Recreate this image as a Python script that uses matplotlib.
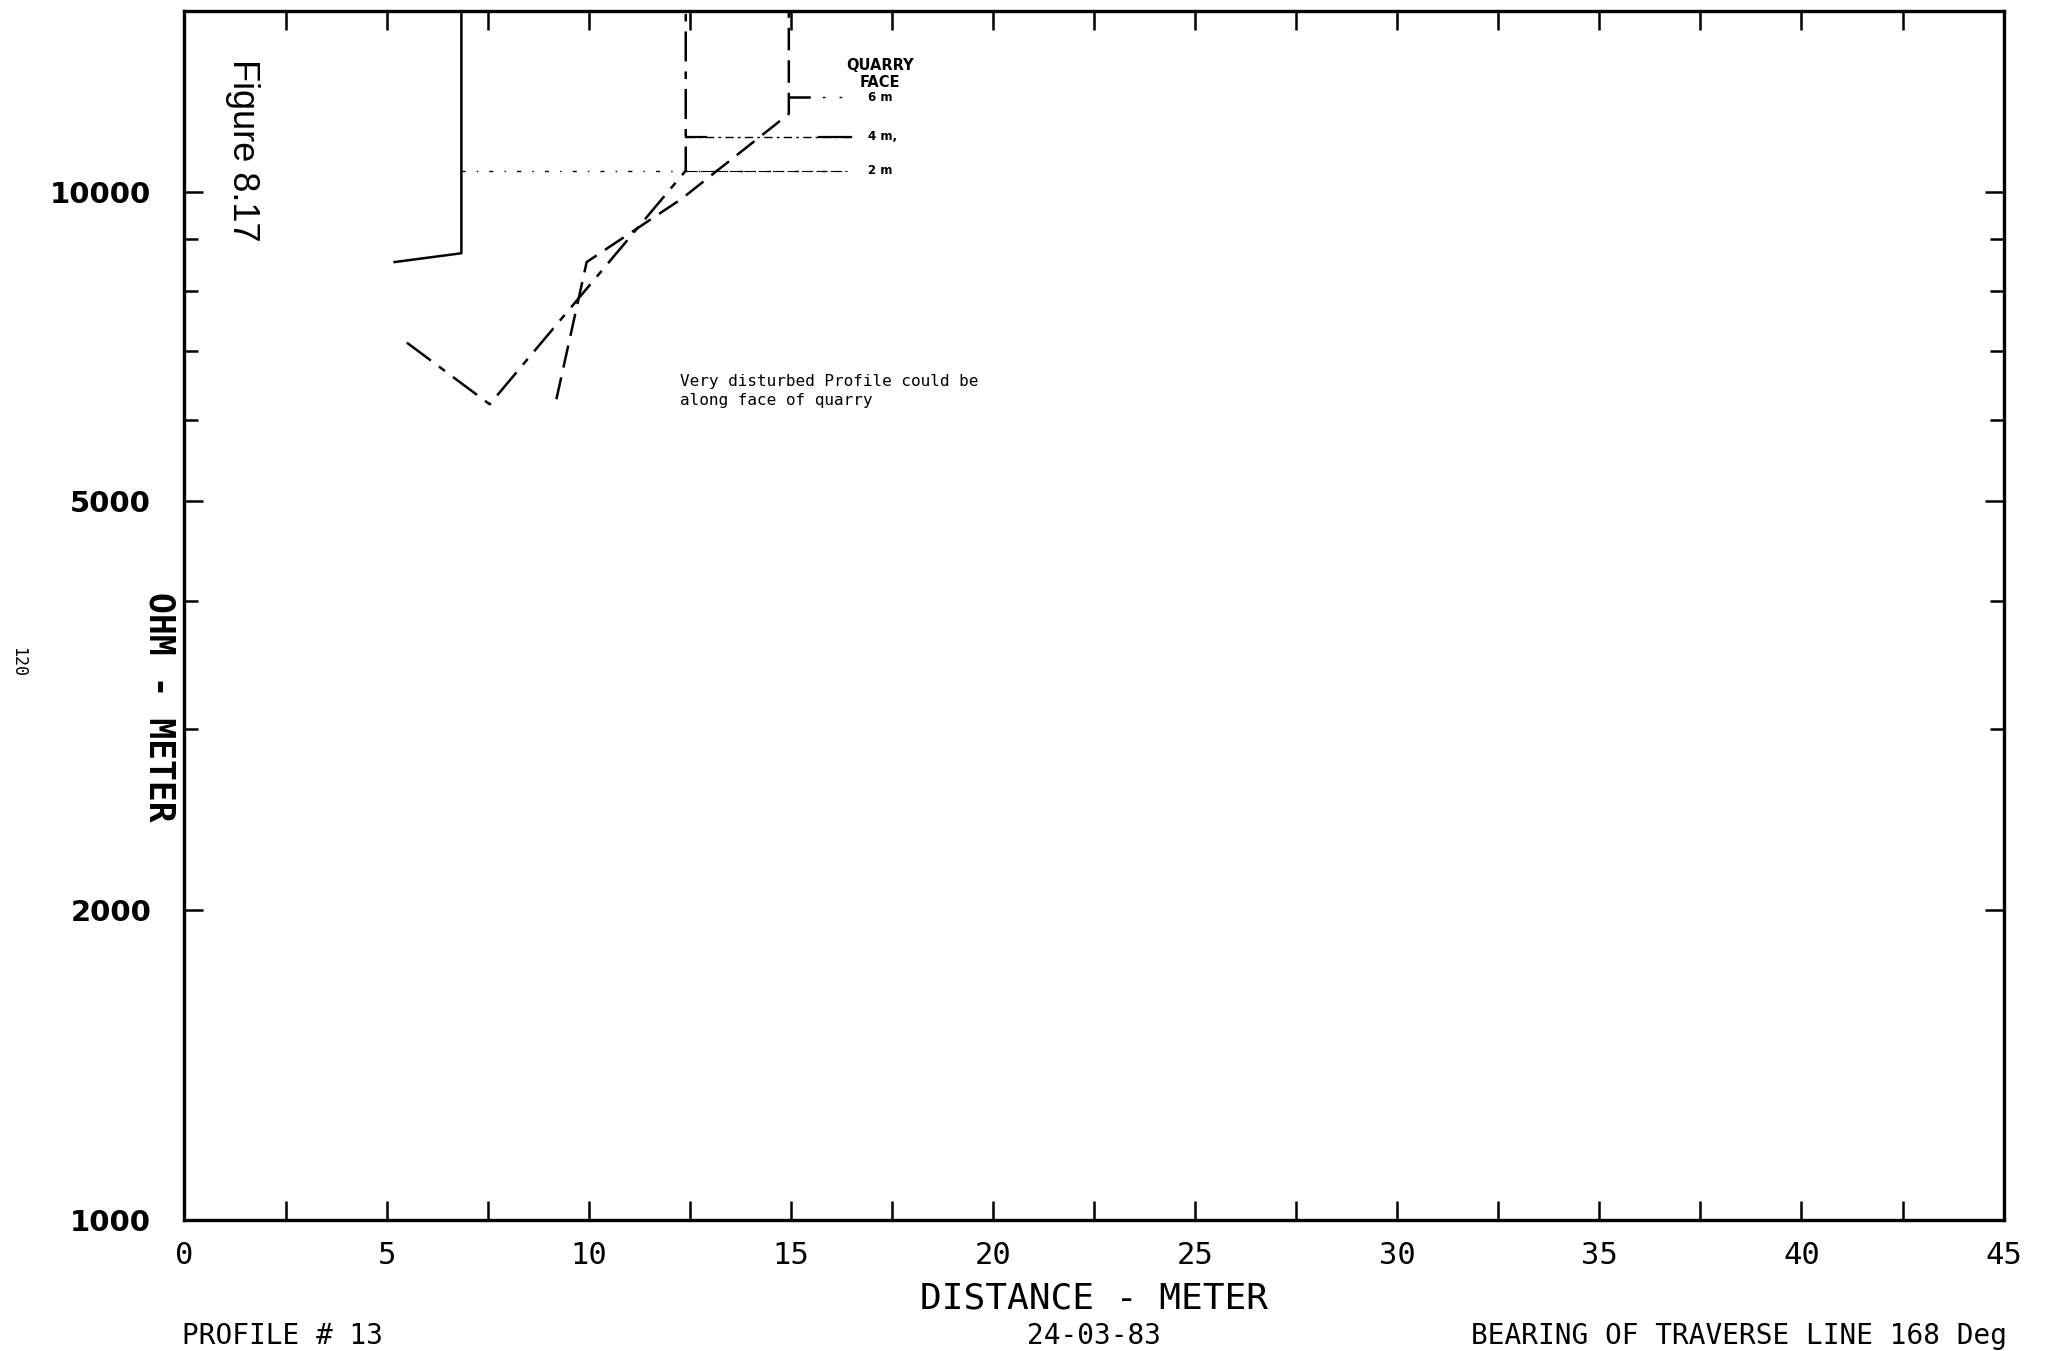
import matplotlib
matplotlib.use('Agg')
import matplotlib.pyplot as plt
from matplotlib.ticker import FixedLocator, NullFormatter

# resistivity readings along the traverse (distance in m, ohm-m)
# 30000 = reading runs off the top of the plot
dist_solid   = [5.2, 6.85, 6.85]
ohm_solid    = [8540, 8710, 30000]
dist_dash    = [9.2, 9.95, 12.3, 14.95, 14.95]
ohm_dash     = [6280, 8540, 9840, 11900, 30000]
dist_dashdot = [5.5, 7.55, 12.4, 12.4]
ohm_dashdot  = [7130, 6210, 10480, 30000]

# quarry face depth markers
face_labels = ['2 m', '4 m,', '6 m']
face_ohm    = [10480, 11310, 12350]
face_start  = [6.85, 12.4, 14.95]
face_end    = [16.4, 16.5, 16.3]
face_text_x = 16.9

x_major = [0, 5, 10, 15, 20, 25, 30, 35, 40, 45]
x_minor = [2.5, 7.5, 12.5, 17.5, 22.5, 27.5, 32.5, 37.5, 42.5]
y_major = [1000, 2000, 5000, 10000]
y_minor = [3000, 4000, 6000, 7000, 8000, 9000]

mono = 'DejaVu Sans Mono'

fig = plt.figure(figsize=(20.52, 13.51), dpi=100)
ax = fig.add_axes([0.0899, 0.0972, 0.9764 - 0.0899, 0.9922 - 0.0972])

ax.plot(dist_solid, ohm_solid, color='black', lw=1.8)
ax.plot(dist_dash, ohm_dash, color='black', lw=1.8, linestyle=(0, (9, 4)))
ax.plot(dist_dashdot, ohm_dashdot, color='black', lw=1.8, linestyle=(0, (12, 4, 3, 4)))

face_styles = [(0, (3, 8, 1, 8)), (0, (6, 3, 2, 3)), (0, (2, 10))]
for lab, yv, x0, x1, ls in zip(face_labels, face_ohm, face_start, face_end, face_styles):
    ax.plot([x0, x1], [yv, yv], color='black', lw=1.0, linestyle=ls)
    ax.text(face_text_x, yv, lab, fontsize=8.5, fontweight='bold', va='center', ha='left')
# solid stubs at the ends of the markers
ax.plot([12.4, 12.9], [11310, 11310], color='black', lw=1.6)
ax.plot([15.7, 16.5], [11310, 11310], color='black', lw=1.6)
ax.plot([14.95, 15.45], [12350, 12350], color='black', lw=1.8)
ax.plot([12.4, 16.4], [10480, 10480], color='black', lw=0.8, linestyle=(0, (10, 3)))

ax.text(17.2, 13250, 'QUARRY', fontsize=10.5, fontweight='bold', ha='center', va='center')
ax.text(17.2, 12780, 'FACE', fontsize=10.5, fontweight='bold', ha='center', va='center')

ax.text(12.27, 6650, 'Very disturbed Profile could be\nalong face of quarry',
        fontsize=11.5, family=mono, ha='left', va='top', linespacing=1.35)

ax.set_xlim(0, 45)
ax.set_yscale('log')
ax.set_ylim(1000, 15000)

ax.xaxis.set_major_locator(FixedLocator(x_major))
ax.xaxis.set_minor_locator(FixedLocator(x_minor))
ax.set_xticklabels([str(v) for v in x_major], fontsize=22, family=mono)
ax.yaxis.set_major_locator(FixedLocator(y_major))
ax.yaxis.set_minor_locator(FixedLocator(y_minor))
ax.yaxis.set_minor_formatter(NullFormatter())
ax.set_yticklabels([str(v) for v in y_major], fontsize=21, fontweight='bold')

ax.tick_params(axis='both', which='both', direction='in', top=True, right=True,
               width=1.8, color='black')
ax.tick_params(axis='x', which='both', length=14, pad=15)
ax.tick_params(axis='y', which='major', length=14, pad=24)
ax.tick_params(axis='y', which='minor', length=10)

for s in ax.spines.values():
    s.set_linewidth(2.4)

fig.text(0.533, 0.039, 'DISTANCE - METER', fontsize=26, family=mono,
         ha='center', va='center')
fig.text(0.0778, 0.477, 'OHM - METER', fontsize=25, family=mono, fontweight='bold',
         rotation=270, ha='center', va='center')
fig.text(0.118, 0.889, 'Figure 8.17', fontsize=26, family=['Liberation Sans', 'DejaVu Sans'],
         rotation=270, ha='center', va='center')
fig.text(0.009, 0.51, '120', fontsize=12, family=mono, rotation=270,
         ha='center', va='center')

fig.text(0.0886, 0.011, 'PROFILE # 13', fontsize=20, family=mono, ha='left', va='center')
fig.text(0.533, 0.011, '24-03-83', fontsize=20, family=mono, ha='center', va='center')
fig.text(0.978, 0.011, 'BEARING OF TRAVERSE LINE 168 Deg', fontsize=20, family=mono,
         ha='right', va='center')

fig.savefig('out.png', dpi=100)
